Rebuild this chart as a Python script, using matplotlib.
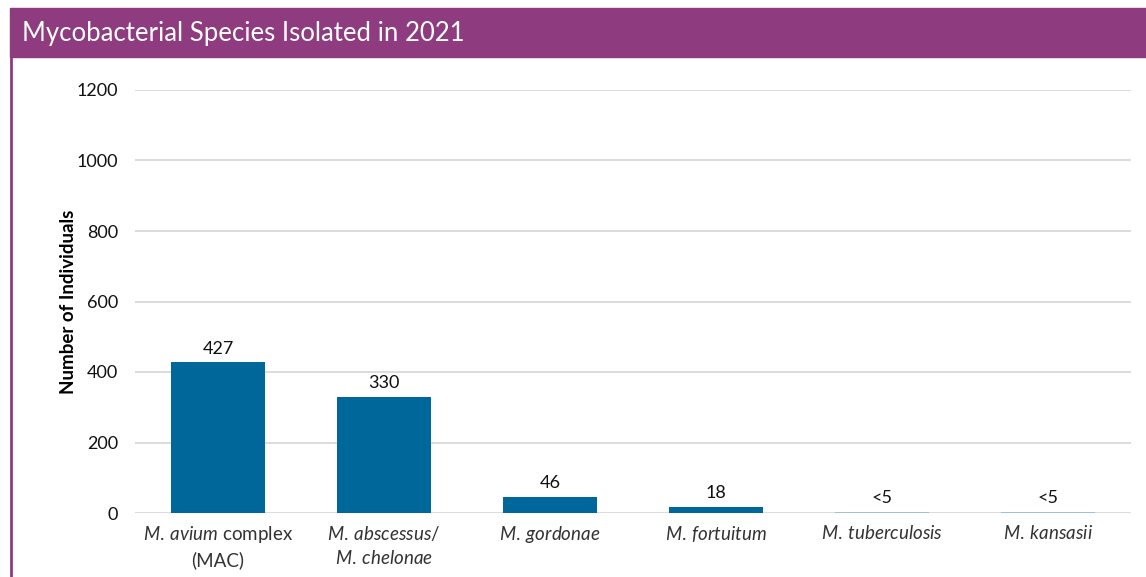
import matplotlib.pyplot as plt
from matplotlib.patches import Rectangle
from matplotlib.lines import Line2D

plt.rcParams['font.family'] = ['Lato', 'DejaVu Sans']
plt.rcParams['mathtext.fontset'] = 'custom'
plt.rcParams['mathtext.rm'] = 'Lato'
plt.rcParams['mathtext.it'] = 'Lato:italic'

# data
species = [
    r"$\mathit{M.\:avium}$ complex" + "\n(MAC)",
    r"$\mathit{M.\:abscessus/}$" + "\n" + r"$\mathit{M.\:chelonae}$",
    r"$\mathit{M.\:gordonae}$",
    r"$\mathit{M.\:fortuitum}$",
    r"$\mathit{M.\:tuberculosis}$",
    r"$\mathit{M.\:kansasii}$",
]
counts = [427, 330, 46, 18, 3, 3]
count_labels = ["427", "330", "46", "18", "<5", "<5"]
yticks = [0, 200, 400, 600, 800, 1000, 1200]

purple = '#8e3b80'
bar_blue = '#00679a'
small_blue = '#a3bfd3'

fig = plt.figure(figsize=(11.46, 5.77), dpi=100)

# title banner and left border
fig.patches.append(Rectangle((10 / 1146, 1 - 57 / 577), 1 - 10 / 1146, 49 / 577,
                             transform=fig.transFigure, color=purple, zorder=0))
fig.lines.append(Line2D([11 / 1146, 11 / 1146], [0, 1 - 57 / 577],
                        transform=fig.transFigure, color=purple, lw=2))
fig.text(22 / 1146, 1 - 34 / 577, "Mycobacterial Species Isolated in 2021",
         color='white', fontsize=18.5, va='center', ha='left')

ax = fig.add_axes([135 / 1146, 64 / 577, (1131 - 135) / 1146, (513 - 90) / 577])
x = range(len(species))
colors = [bar_blue if c >= 5 else small_blue for c in counts]
bars = ax.bar(x, counts, width=0.57, color=colors, zorder=3)

for b, lab in zip(bars, count_labels):
    ax.annotate(lab, (b.get_x() + b.get_width() / 2, b.get_height()),
                xytext=(0, 4), textcoords='offset points',
                ha='center', va='bottom', fontsize=13, color='#111111')

ax.set_xlim(-0.5, len(species) - 0.5)
ax.set_ylim(0, 1200)
ax.set_yticks(yticks)
ax.set_xticks(list(x))
ax.set_xticklabels(species, fontsize=13.5, color='#333333', linespacing=1.4)
ax.tick_params(axis='y', labelsize=13, colors='#111111', length=0, pad=12)
ax.tick_params(axis='x', length=0, pad=8)
ax.grid(axis='y', color='#d9d9d9', lw=1.3, zorder=0)
ax.set_axisbelow(True)
for s in ax.spines.values():
    s.set_visible(False)
ax.set_ylabel("Number of Individuals", fontsize=13.5, fontweight='bold', labelpad=0)

fig.savefig('out.png', dpi=100)
